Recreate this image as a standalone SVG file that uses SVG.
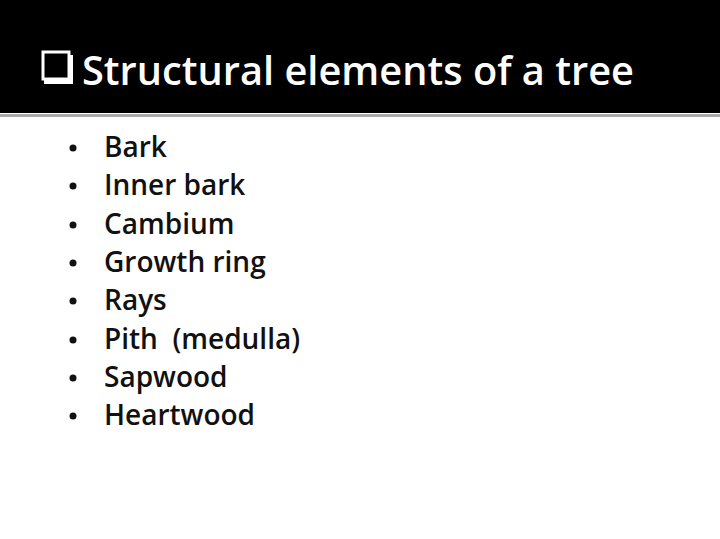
<svg xmlns="http://www.w3.org/2000/svg" width="720" height="539" viewBox="0 0 720 539">
<style>
.t{font-family:"Open Sans","Liberation Sans",sans-serif;font-size:40px;fill:#fff;font-weight:600}
.b{font-family:"Open Sans","Liberation Sans",sans-serif;font-size:28px;fill:#111;font-weight:600}
.d{fill:#111}
</style>
<rect width="720" height="539" fill="#fff"/>
<rect width="720" height="113" fill="#000"/>
<rect y="114" width="720" height="3" fill="#aaa"/>
<g id="title">
<rect x="44" y="55" width="29" height="29" fill="#fff"/>
<rect x="43" y="52" width="26" height="27" fill="#000" stroke="#fff" stroke-width="3"/>
<text class="t" x="82" y="85" textLength="552" lengthAdjust="spacingAndGlyphs">Structural elements of a tree</text>
</g>
<g id="list">
<circle class="d" cx="73" cy="148" r="3.5"/><text class="b" x="104" y="157">Bark</text>
<circle class="d" cx="73" cy="186" r="3.5"/><text class="b" x="104" y="195">Inner bark</text>
<circle class="d" cx="73" cy="225" r="3.5"/><text class="b" x="104" y="234">Cambium</text>
<circle class="d" cx="73" cy="263" r="3.5"/><text class="b" x="104" y="272">Growth ring</text>
<circle class="d" cx="73" cy="301" r="3.5"/><text class="b" x="104" y="310">Rays</text>
<circle class="d" cx="73" cy="340" r="3.5"/><text class="b" x="104" y="349" xml:space="preserve">Pith  (medulla)</text>
<circle class="d" cx="73" cy="378" r="3.5"/><text class="b" x="104" y="387">Sapwood</text>
<circle class="d" cx="73" cy="416" r="3.5"/><text class="b" x="104" y="425">Heartwood</text>
</g>
</svg>
